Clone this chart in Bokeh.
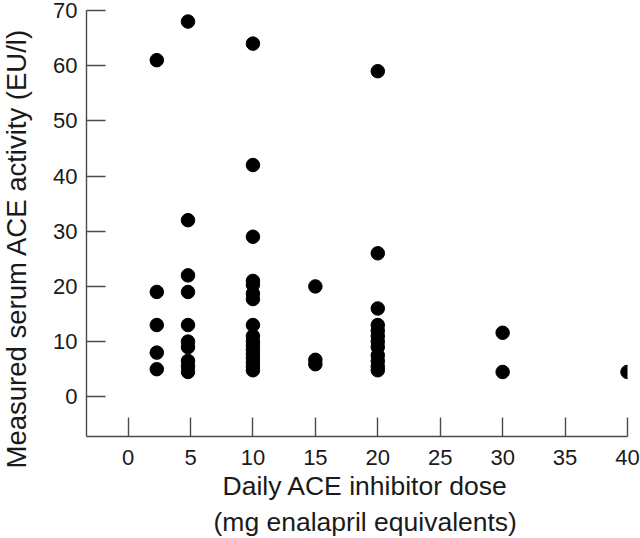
from bokeh.plotting import figure
from bokeh.models import FixedTicker, ColumnDataSource, LinearAxis, Title
from bokeh.embed import file_html
from bokeh.resources import INLINE

# Data (dose in mg enalapril equivalents, ACE activity EU/l)
dose_2_5 = [61, 19, 13, 8, 5]
dose_5 = [68, 32, 22, 19, 13, 10, 9, 6.5, 5.5, 4.5]
dose_10 = [64, 42, 29, 21, 20.3, 18.7, 17.7, 13, 11, 10, 9.3, 8.5, 7.7, 7, 6.2, 5.5, 4.8]
dose_15 = [20, 6.7, 5.9]
dose_20 = [59, 26, 16, 13, 12, 11, 10, 9, 7.5, 6.5, 5.5, 4.8]
dose_30 = [11.6, 4.5]
dose_40 = [4.5]
doses = [2.3, 4.8, 10, 15, 20, 30, 40]
groups = [dose_2_5, dose_5, dose_10, dose_15, dose_20, dose_30, dose_40]

x_ticks = [0, 5, 10, 15, 20, 25, 30, 35, 40]
y_ticks = [0, 10, 20, 30, 40, 50, 60, 70]

x_title_1 = "Daily ACE inhibitor dose"
x_title_2 = "(mg enalapril equivalents)"
y_title = "Measured serum ACE activity (EU/l)"

xs, ys = [], []
for d, g in zip(doses, groups):
    for v in g:
        xs.append(d)
        ys.append(v)
src = ColumnDataSource(dict(x=xs, y=ys))

p = figure(width=640, height=538, x_range=(-3.33, 40), y_range=(-7.2, 70),
           output_backend="svg", toolbar_location=None,
           min_border_left=86, min_border_right=13, min_border_top=10, min_border_bottom=102)
p.outline_line_color = None
p.xgrid.visible = False
p.ygrid.visible = False
p.background_fill_color = "white"
p.border_fill_color = "white"

p.scatter("x", "y", source=src, size=13.5, color="black")

font = "Liberation Sans"
for ax in (p.xaxis[0], p.yaxis[0]):
    ax.axis_line_color = "#4a4a4a"
    ax.axis_line_width = 1.4
    ax.major_tick_line_color = "#4a4a4a"
    ax.major_tick_line_width = 1.4
    ax.major_tick_in = 19
    ax.major_tick_out = 0
    ax.minor_tick_in = 0
    ax.minor_tick_out = 0
    ax.major_label_text_font = font
    ax.major_label_text_font_size = "22px"
    ax.major_label_text_color = "#1a1a1a"

p.xaxis[0].ticker = FixedTicker(ticks=x_ticks)
p.yaxis[0].ticker = FixedTicker(ticks=y_ticks)
p.xaxis[0].major_label_standoff = 13
p.yaxis[0].major_label_standoff = 9

# blank spacer axis between the y tick labels and the y title
spacer = LinearAxis(ticker=FixedTicker(ticks=[0]))
spacer.axis_line_color = None
spacer.major_tick_line_color = "white"
spacer.major_tick_in = 0
spacer.major_tick_out = 17
spacer.minor_tick_in = 0
spacer.minor_tick_out = 0
spacer.major_label_standoff = 0
spacer.major_label_overrides = {0: ""}
p.add_layout(spacer, "left")


def make_title(text, size, offset, standoff):
    return Title(text=text, align="left", offset=offset, vertical_align="top",
                 standoff=standoff, text_font=font, text_font_size=size,
                 text_font_style="normal", text_color="#1a1a1a")


p.add_layout(make_title(y_title, "27.5px", -32, 0), "left")
p.add_layout(make_title(x_title_1, "26.5px", 136, 7), "below")
p.add_layout(make_title(x_title_2, "26.5px", 127, 0), "below")

open("out.html", "w").write(file_html(p, INLINE))
